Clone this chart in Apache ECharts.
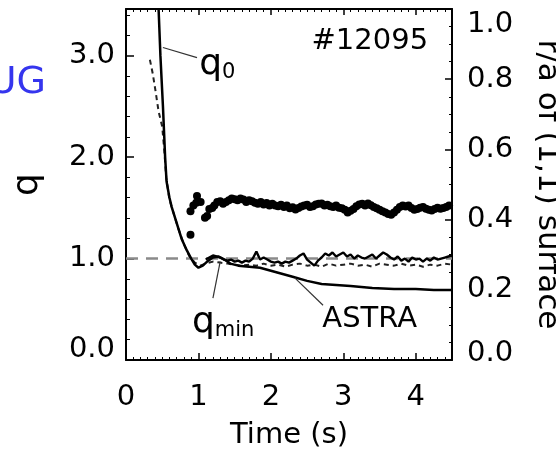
<!DOCTYPE html>
<html><head><meta charset="utf-8">
<script src="https://cdn.jsdelivr.net/npm/echarts@6/dist/echarts.min.js"></script>
<style>html,body{margin:0;padding:0;background:#fff;}#c{width:556px;height:454px;}</style>
</head><body><div id="c"></div>
<script>
// ---------- data ----------
const xRange = [0, 4.5];
const qRange = [0, 3.46];
const rRange = [0, 1.0];

// ASTRA q0 (solid)
const astraT = [0.45,0.475,0.51,0.54,0.56,0.60,0.63,0.70,0.77,0.84,0.90,0.95,1.00,1.06,1.12,1.20,1.28,1.36,1.44,1.55,1.70,1.85,2.00,2.15,2.30,2.50,2.70,2.90,3.10,3.40,3.70,4.00,4.25,4.50];
const astraQ = [3.46,3.00,2.50,2.00,1.76,1.60,1.51,1.35,1.19,1.08,1.00,0.94,0.91,0.93,0.97,1.01,1.02,0.99,0.95,0.93,0.92,0.91,0.88,0.85,0.82,0.78,0.75,0.74,0.73,0.71,0.70,0.70,0.69,0.69];

// dashed curve
const dashT = [0.33,0.37,0.41,0.45,0.50,0.53,0.555,0.60,0.66,0.72,0.80,0.87,0.95,1.02,1.10,1.20,1.30,1.40,1.50,1.60,1.70,1.80,1.90,2.00,2.10,2.20,2.30,2.40,2.50,2.60,2.70,2.80,2.90,3.00,3.10,3.20,3.30,3.40,3.50,3.60,3.70,3.80,3.90,4.00,4.10,4.20,4.30,4.40,4.50];
const dashQ = [2.96,2.82,2.64,2.45,2.30,2.05,1.80,1.58,1.44,1.30,1.14,1.03,0.96,0.93,0.95,0.97,0.96,0.95,0.94,0.93,0.94,0.93,0.95,0.93,0.94,0.92,0.94,0.95,0.93,0.94,0.92,0.95,0.93,0.94,0.95,0.93,0.94,0.92,0.95,0.94,0.93,0.95,0.93,0.94,0.92,0.94,0.93,0.95,0.94];

// noisy measured q (solid, around 1.0)
const measT = [1.10,1.15,1.20,1.25,1.30,1.35,1.40,1.45,1.50,1.55,1.60,1.65,1.70,1.75,1.80,1.85,1.90,1.95,2.00,2.05,2.10,2.15,2.20,2.25,2.30,2.35,2.40,2.45,2.50,2.55,2.60,2.65,2.70,2.75,2.80,2.85,2.90,2.95,3.00,3.05,3.10,3.15,3.20,3.25,3.30,3.35,3.40,3.45,3.50,3.55,3.60,3.65,3.70,3.75,3.80,3.85,3.90,3.95,4.00,4.05,4.10,4.15,4.20,4.25,4.30,4.35,4.40,4.45,4.50];
const measQ = [0.99,1.01,1.03,1.02,1.01,0.99,0.98,0.99,0.97,0.98,0.96,0.98,0.97,1.00,1.07,0.99,1.01,0.99,0.97,0.96,0.97,0.95,0.97,0.96,0.98,1.00,1.03,1.05,0.99,0.96,0.93,0.98,1.01,1.05,1.03,1.06,1.02,1.04,1.06,1.02,1.04,1.00,1.03,1.01,1.00,1.02,1.04,1.00,1.03,1.06,1.04,1.01,0.99,1.02,0.98,1.00,0.97,1.01,0.99,1.00,0.97,1.00,0.98,1.01,0.99,1.00,1.01,1.02,1.03];

// r/a of (1,1) surface (right axis): scattered early points and the dense band
const rEarlyT = [0.89,0.89,0.93,0.97,0.98,1.03,1.09,1.12,1.15];
const rEarlyV = [0.424,0.357,0.44,0.448,0.467,0.45,0.405,0.41,0.43];
const rT = [1.19,1.22,1.26,1.30,1.34,1.38,1.42,1.46,1.50,1.54,1.58,1.62,1.66,1.70,1.74,1.78,1.82,1.86,1.90,1.94,1.98,2.02,2.06,2.10,2.14,2.18,2.22,2.26,2.30,2.34,2.38,2.42,2.46,2.50,2.54,2.58,2.62,2.66,2.70,2.74,2.78,2.82,2.86,2.90,2.94,2.98,3.02,3.06,3.10,3.14,3.18,3.22,3.26,3.30,3.34,3.38,3.42,3.46,3.50,3.54,3.58,3.62,3.66,3.70,3.74,3.78,3.82,3.86,3.90,3.94,3.98,4.02,4.06,4.10,4.14,4.18,4.22,4.26,4.30,4.34,4.38,4.42,4.46];
const rV = [0.433,0.44,0.45,0.452,0.445,0.45,0.455,0.46,0.458,0.455,0.46,0.457,0.45,0.455,0.452,0.448,0.445,0.45,0.443,0.447,0.44,0.445,0.44,0.438,0.442,0.436,0.44,0.432,0.435,0.429,0.433,0.437,0.44,0.442,0.436,0.438,0.443,0.445,0.446,0.44,0.442,0.438,0.436,0.44,0.434,0.432,0.428,0.42,0.425,0.43,0.438,0.443,0.445,0.44,0.446,0.441,0.436,0.432,0.428,0.424,0.42,0.416,0.414,0.42,0.428,0.436,0.44,0.437,0.44,0.433,0.428,0.43,0.434,0.436,0.431,0.428,0.426,0.43,0.434,0.431,0.433,0.436,0.44];

// q = 1 reference
const refT = [0, 4.5];
const refQ = [1, 1];

// tick labels
const xTickLabels = ['0','1','2','3','4'];

// annotations (data coordinates of the left axis)
const annotations = [
  {text:'{q|q}{s|0}', at:[1.01, 2.91], lead:[[0.51,3.08],[0.98,2.98]]},
  {text:'{q|q}{s|min}', at:[0.91, 0.37], lead:[[1.30,0.97],[1.20,0.61]]},
  {text:'{a|ASTRA}', at:[2.71, 0.40], lead:[[2.33,0.81],[2.72,0.54]]},
  {text:'{a|#12095}', at:[4.17, 3.14], lead:null, right:true}
];

// ---------- chart ----------
const FONT = 'DejaVu Sans';
const TXT = '#000';
const pair = (a, b) => a.map((v, i) => [v, b[i]]);

const chart = echarts.init(document.getElementById('c'), null, {renderer:'canvas'});

const labelRich = (size) => ({
  n:{fontSize:size, fontFamily:FONT, color:TXT},
  lo:{fontSize:size, fontFamily:FONT, color:TXT, padding:[0,0,22,0]},
  lo2:{fontSize:size, fontFamily:FONT, color:TXT, padding:[0,0,14,0]},
  hi:{fontSize:size, fontFamily:FONT, color:TXT, padding:[30,0,0,0]}
});

const axisLineStyle = {show:true, onZero:false, lineStyle:{color:'#000', width:2}};

chart.setOption({
  animation:false,
  backgroundColor:'#fff',
  grid:{left:126, top:9, width:326, height:351, containLabel:false, outerBoundsMode:'none', show:false},
  xAxis:[{
    type:'value', min:xRange[0], max:xRange[1], interval:1, position:'bottom',
    axisLine:axisLineStyle,
    axisTick:{show:true, inside:true, length:7, lineStyle:{color:'#000', width:1.5}},
    minorTick:{show:true, splitNumber:10, length:3, lineStyle:{color:'#000', width:1}},
    splitLine:{show:false},
    axisLabel:{show:true, margin:23, fontSize:29, fontFamily:FONT, color:TXT,
      formatter:(v)=> { const i = Math.round(v); return (Math.abs(v-i)<1e-6 && i<xTickLabels.length) ? xTickLabels[i] : ''; }},
    name:'Time (s)', nameLocation:'middle', nameGap:61, nameMoveOverlap:false,
    nameTextStyle:{fontSize:29, fontFamily:FONT, color:TXT}
  },{
    type:'value', min:xRange[0], max:xRange[1], interval:1, position:'top',
    axisLine:axisLineStyle,
    axisTick:{show:true, inside:true, length:6, lineStyle:{color:'#000', width:1.5}},
    minorTick:{show:true, splitNumber:10, length:3, lineStyle:{color:'#000', width:1}},
    splitLine:{show:false}, axisLabel:{show:false}
  }],
  yAxis:[{
    type:'value', min:qRange[0], max:qRange[1], interval:1, position:'left',
    axisLine:axisLineStyle,
    axisTick:{show:true, inside:true, length:8, lineStyle:{color:'#000', width:1.5}},
    minorTick:{show:true, splitNumber:5, length:4, lineStyle:{color:'#000', width:1}},
    splitLine:{show:false},
    axisLabel:{show:true, margin:11, rich:labelRich(29),
      formatter:(v)=>{ if (Math.abs(v-Math.round(v))>1e-6) return ''; return v===0 ? '{lo|0.0}' : '{n|'+v.toFixed(1)+'}'; }},
    name:'q', nameLocation:'middle', nameGap:80, nameRotate:90, nameMoveOverlap:false,
    nameTextStyle:{fontSize:36, fontFamily:FONT, color:TXT}
  },{
    type:'value', min:rRange[0], max:rRange[1], interval:0.2, position:'right',
    axisLine:axisLineStyle,
    axisTick:{show:true, inside:true, length:7, lineStyle:{color:'#000', width:1.5}},
    minorTick:{show:true, splitNumber:4, length:3, lineStyle:{color:'#000', width:1}},
    splitLine:{show:false},
    axisLabel:{show:true, margin:15, rich:labelRich(29),
      formatter:(v)=>{ if (v===0) return '{lo2|0.0}'; if (Math.abs(v-1)<1e-6) return '{hi|1.0}'; return '{n|'+v.toFixed(1)+'}'; }},
    name:'r/a of (1,1) surface', nameLocation:'middle', nameGap:80, nameRotate:-90, nameMoveOverlap:false,
    nameTextStyle:{fontSize:31, fontFamily:FONT, color:TXT}
  }],
  series:[
    {type:'line', name:'q=1', data:pair(refT, refQ), xAxisIndex:0, yAxisIndex:0, showSymbol:false,
     lineStyle:{color:'#8a8a8a', width:2.5, type:[12,8]}, z:1},
    {type:'scatter', name:'r/a early', data:pair(rEarlyT, rEarlyV), xAxisIndex:0, yAxisIndex:1,
     symbol:'circle', symbolSize:8, itemStyle:{color:'#000', opacity:1}, z:3},
    {type:'line', name:'r/a', data:pair(rT, rV), xAxisIndex:0, yAxisIndex:1,
     showSymbol:true, showAllSymbol:true, symbol:'circle', symbolSize:8,
     itemStyle:{color:'#000', opacity:1, borderWidth:0},
     lineStyle:{color:'#000', width:6}, z:3},
    {type:'line', name:'dashed', data:pair(dashT, dashQ), xAxisIndex:0, yAxisIndex:0, showSymbol:false,
     lineStyle:{color:'#222', width:2, type:[5,4]}, z:2},
    {type:'line', name:'meas', data:pair(measT, measQ), xAxisIndex:0, yAxisIndex:0, showSymbol:false,
     lineStyle:{color:'#000', width:2.4}, z:3},
    {type:'line', name:'ASTRA', data:pair(astraT, astraQ), xAxisIndex:0, yAxisIndex:0, showSymbol:false,
     lineStyle:{color:'#000', width:2.5}, z:4}
  ]
});

// annotations placed from data coordinates
const px = (p) => chart.convertToPixel({xAxisIndex:0, yAxisIndex:0}, p);
const g = [];
const annRich = {
  q:{fontSize:36, fontFamily:FONT, fill:TXT, lineHeight:38},
  s:{fontSize:21, fontFamily:FONT, fill:TXT, lineHeight:22, padding:[16,0,0,0]},
  a:{fontSize:29, fontFamily:FONT, fill:TXT}
};
annotations.forEach(a => {
  if (a.lead) {
    const p1 = px(a.lead[0]), p2 = px(a.lead[1]);
    g.push({type:'line', shape:{x1:p1[0], y1:p1[1], x2:p2[0], y2:p2[1]}, style:{stroke:'#333', lineWidth:1.2}, z:10});
  }
  const p = px(a.at);
  g.push({type:'text', x:p[0], y:p[1], z:10,
    style:{text:a.text, rich:annRich, fill:TXT, align:a.right?'right':'left', verticalAlign:'middle'}});
});
g.push({type:'text', x:46, y:83, z:10,
  style:{text:'UG', fontSize:38, fontFamily:FONT, fill:'#3535ee', align:'right', verticalAlign:'middle'}});
chart.setOption({graphic:g});
</script>
</body></html>
